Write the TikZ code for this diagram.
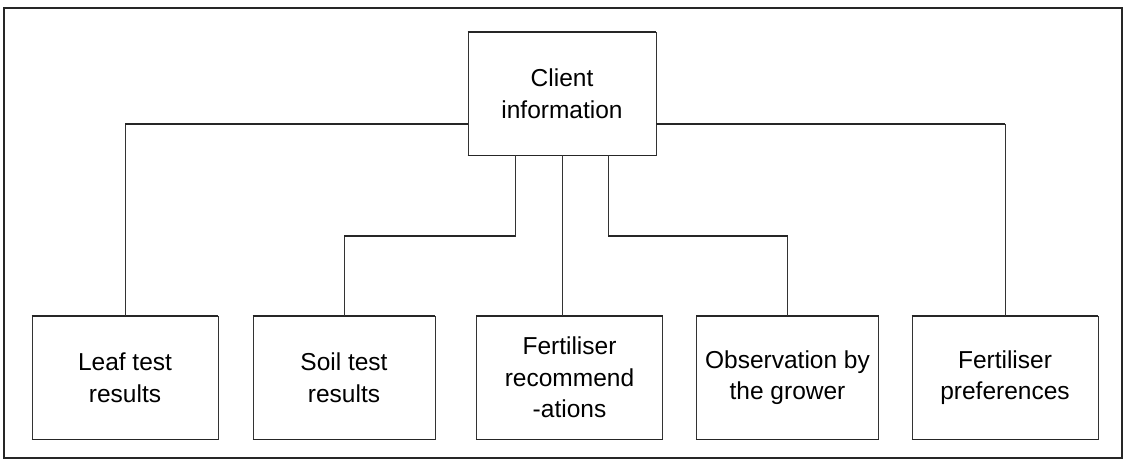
\documentclass[tikz,border=0pt]{standalone}
\usepackage{fontspec}
\setmainfont{Liberation Sans}
\begin{document}
\begin{tikzpicture}[x=1pt,y=-1pt,
  box/.style={draw=black!80,line width=0.8pt,rectangle,minimum height=123pt,
    inner sep=2pt,align=center,font=\fontsize{24.5}{31.5}\selectfont},
  rule/.style={draw=black!85,line width=1.8pt},
  link/.style={draw=black!80,line width=0.8pt}]
  \useasboundingbox (0,0) rectangle (1126,463);
  % frame around the chart
  \draw[black!85,line width=1.8pt] (4,8) rectangle (1122,458);

  % boxes
  \node[box,minimum width=188pt] (client) at (562,93.5) {Client\\information};
  \node[box,minimum width=186pt] (leaf) at (125,377.5) {Leaf test\\results};
  \node[box,minimum width=182pt] (soil) at (344,377.5) {Soil test\\results};
  \node[box,minimum width=186pt] (fert) at (569.5,377.5) {Fertiliser\\recommend\\-ations};
  \node[box,minimum width=182pt] (obs) at (787.5,377.5) {Observation by\\the grower};
  \node[box,minimum width=186pt] (pref) at (1005,377.5) {Fertiliser\\preferences};

  % heavier top and bottom edges
  \foreach \n in {client,leaf,soil,fert,obs,pref}{
    \draw[rule] (\n.north west) -- (\n.north east);
    \draw[rule] (\n.south west) -- (\n.south east);
  }

  % bend points of the connectors
  \coordinate (busL) at (125,124);
  \coordinate (busR) at (1005,124);
  \coordinate (dL) at (515,236);
  \coordinate (dR) at (608,236);

  % connectors
  \draw[link] (client.west |- busL) -- (busL) -- (leaf.north);
  \draw[link] (client.east |- busR) -- (busR) -- (pref.north);
  \draw[link] (client.south -| dL) -- (dL) -| (soil.north);
  \draw[link] (client.south) -- (client.south |- fert.north);
  \draw[link] (client.south -| dR) -- (dR) -| (obs.north);
  % horizontal runs drawn heavier
  \draw[rule] (client.west |- busL) -- (busL);
  \draw[rule] (client.east |- busR) -- (busR);
  \draw[rule] (dL) -- (soil.north |- dL);
  \draw[rule] (dR) -- (obs.north |- dR);
\end{tikzpicture}
\end{document}
